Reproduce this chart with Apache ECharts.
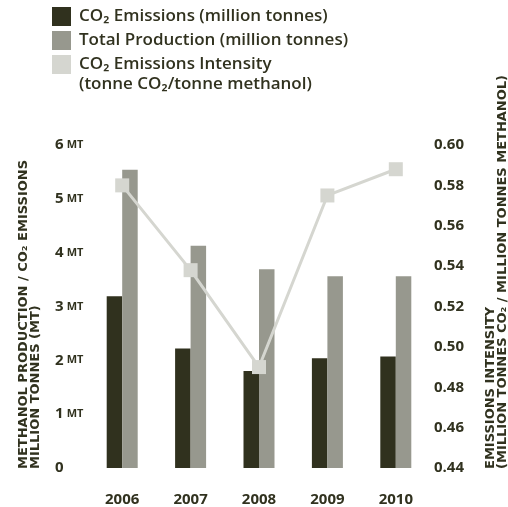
<!DOCTYPE html>
<html>
<head>
<meta charset="utf-8">
<script src="https://cdn.jsdelivr.net/npm/echarts@6/dist/echarts.min.js"></script>
<style>
  html, body { margin: 0; padding: 0; background: #fff; }
  #chart { width: 508px; height: 507px; }
</style>
</head>
<body>
<div id="chart"></div>
<script>
// Methanol production, CO2 emissions and emissions intensity, 2006-2010
const years = ['2006', '2007', '2008', '2009', '2010'];
const co2Emissions = [3.19, 2.22, 1.80, 2.04, 2.07];        // million tonnes
const totalProduction = [5.54, 4.13, 3.69, 3.56, 3.56];     // million tonnes
const emissionsIntensity = [0.580, 0.538, 0.490, 0.575, 0.588]; // t CO2 / t methanol

const leftTicks = { min: 0, max: 6, step: 1 };
const rightTicks = { min: 0.44, max: 0.60, step: 0.02 };

const seriesNames = [
  'CO₂ Emissions (million tonnes)',
  'Total Production (million tonnes)',
  'CO₂ Emissions Intensity'
];

const ink = '#31321f';
const colDark = '#30311e';
const colMid = '#97988e';
const colLight = '#d5d6d0';

const chart = echarts.init(document.getElementById('chart'), null, { renderer: 'canvas' });

const gridTop = 145, gridBottom = 38, gridLeft = 88, gridRight = 78;

chart.setOption({
  animation: false,
  backgroundColor: '#ffffff',
  textStyle: { fontFamily: 'Open Sans', color: ink },
  legend: {
    orient: 'vertical',
    left: 52,
    top: 7,
    padding: 0,
    itemWidth: 19,
    itemHeight: 19,
    itemGap: 5,
    icon: 'rect',
    selectedMode: false,
    data: seriesNames,
    textStyle: {
      fontFamily: 'Open Sans',
      fontWeight: 600,
      fontSize: 17,
      color: ink,
      padding: [0, 0, 0, 3]
    }
  },
  graphic: [
    {
      type: 'text',
      left: 79,
      top: 76,
      style: {
        text: '(tonne CO₂/tonne methanol)',
        font: '600 17px "Open Sans"',
        fill: ink
      }
    },
    {
      type: 'text',
      x: 18,
      y: 469,
      rotation: Math.PI / 2,
      style: {
        text: 'METHANOL PRODUCTION / CO₂ EMISSIONS\nMILLION TONNES (MT)',
        font: 'bold 13px "DejaVu Sans"',
        lineHeight: 12,
        fill: ink,
        align: 'left',
        verticalAlign: 'top'
      }
    },
    {
      type: 'text',
      x: 485,
      y: 469,
      rotation: Math.PI / 2,
      style: {
        text: 'EMISSIONS INTENSITY\n(MILLION TONNES CO₂ / MILLION TONNES METHANOL)',
        font: 'bold 13px "DejaVu Sans"',
        lineHeight: 12,
        fill: ink,
        align: 'left',
        verticalAlign: 'top'
      }
    }
  ],
  grid: { top: gridTop, bottom: gridBottom, left: gridLeft, right: gridRight, containLabel: false },
  xAxis: {
    type: 'category',
    data: years,
    axisLine: { show: false },
    axisTick: { show: false },
    axisLabel: {
      margin: 24,
      fontFamily: 'Open Sans',
      fontWeight: 700,
      fontSize: 15,
      color: ink
    }
  },
  yAxis: [
    {
      type: 'value',
      min: leftTicks.min,
      max: leftTicks.max,
      interval: leftTicks.step,
      axisLine: { show: false },
      axisTick: { show: false },
      splitLine: { show: false },
      axisLabel: {
        align: 'left',
        margin: 33,
        formatter: v => v === 0 ? '{n|0}' : '{n|' + v + '} {u|MT}',
        rich: {
          n: { fontFamily: 'Open Sans', fontWeight: 700, fontSize: 15, color: ink },
          u: { fontFamily: 'Open Sans', fontWeight: 700, fontSize: 11, color: ink }
        }
      }
    },
    {
      type: 'value',
      position: 'right',
      min: rightTicks.min,
      max: rightTicks.max,
      interval: rightTicks.step,
      axisLine: { show: false },
      axisTick: { show: false },
      splitLine: { show: false },
      axisLabel: {
        align: 'left',
        margin: 4,
        fontFamily: 'Open Sans',
        fontWeight: 700,
        fontSize: 15,
        color: ink,
        formatter: v => v.toFixed(2)
      }
    }
  ],
  series: [
    {
      name: seriesNames[0],
      type: 'bar',
      yAxisIndex: 0,
      data: co2Emissions,
      barWidth: 15.5,
      barGap: '0%',
      itemStyle: { color: colDark }
    },
    {
      name: seriesNames[1],
      type: 'bar',
      yAxisIndex: 0,
      data: totalProduction,
      barWidth: 15.5,
      barGap: '0%',
      itemStyle: { color: colMid }
    },
    {
      name: seriesNames[2],
      type: 'line',
      yAxisIndex: 1,
      data: emissionsIntensity,
      symbol: 'rect',
      symbolSize: 14,
      z: 5,
      lineStyle: { color: colLight, width: 3 },
      itemStyle: { color: colLight }
    }
  ]
});
</script>
</body>
</html>
